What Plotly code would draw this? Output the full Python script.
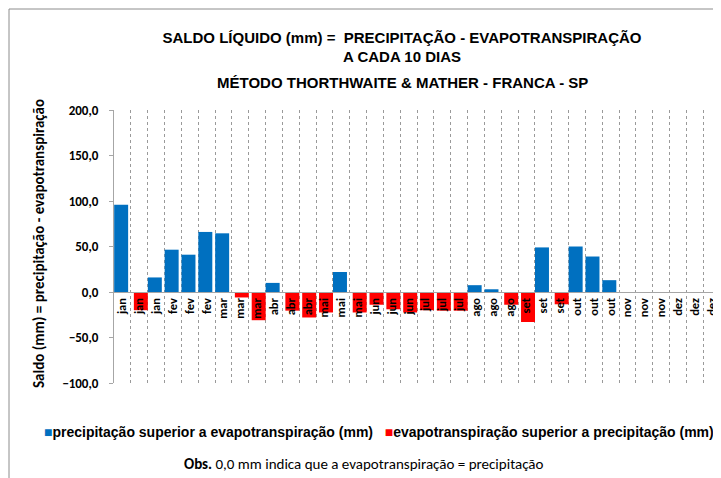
import plotly.graph_objects as go

# ---- data ----
decendio_labels = ["jan", "jan", "jan", "fev", "fev", "fev", "mar", "mar", "mar",
                   "abr", "abr", "abr", "mai", "mai", "mai", "jun", "jun", "jun",
                   "jul", "jul", "jul", "ago", "ago", "ago", "set", "set", "set",
                   "out", "out", "out", "nov", "nov", "nov", "dez", "dez", "dez"]

precip_superior = [96, None, 16, 46.5, 41, 66, 64.5, None, None,
                   10, None, None, None, 22, None, None, None, None,
                   None, None, None, 7.5, 3, None, None, 49, None,
                   50, 39, 13, 0, 0, 0, 0, 0, 0]

evap_superior = [None, -20, None, None, None, None, None, -6, -31,
                 None, -20.5, -28, -22.5, None, -22.5, -14, -19, -22.5,
                 -20, -20.5, -20.5, None, None, -14, -33, None, -13.5,
                 None, None, None, None, None, None, None, None, None]

y_ticks = [-100, -50, 0, 50, 100, 150, 200]

legend_names = ["precipitação superior a evapotranspiração (mm)",
                "evapotranspiração superior a precipitação (mm)"]

x_pos = list(range(len(decendio_labels)))

BLUE = "#0070C0"
RED = "#FF0000"
ARIAL = "Liberation Sans, Arial, sans-serif"
CALIBRI = "Carlito, Lato, sans-serif"

# page body has an 8px margin: the figure is drawn 8px in from the top-left
OFF = 8
W, H = 721 - OFF, 478 - OFF
L, R, T, B = 114 - OFF, 1, 110 - OFF, 478 - 383
pw, ph = W - L - R, H - T - B


def px_x(x):  # reference screen pixel -> paper
    return (x - OFF - L) / pw


def px_y(y):
    return (H - B - (y - OFF)) / ph


fig = go.Figure()
fig.add_trace(go.Bar(
    x=x_pos, y=precip_superior, name=legend_names[0],
    marker=dict(color=BLUE, line=dict(width=0)), width=0.83, offset=-0.49,
))
fig.add_trace(go.Bar(
    x=x_pos, y=evap_superior, name=legend_names[1],
    marker=dict(color=RED, line=dict(width=0)), width=0.83, offset=-0.32,
))

fig.update_layout(
    width=W, height=H,
    margin=dict(l=L, r=R, t=T, b=B, autoexpand=False),
    paper_bgcolor="white", plot_bgcolor="white",
    barmode="overlay",
    separators=",.",
    showlegend=False,
    title=dict(
        text="SALDO LÍQUIDO (mm) =  PRECIPITAÇÃO - EVAPOTRANSPIRAÇÃO<br>A CADA 10 DIAS",
        font=dict(family=ARIAL, size=15, color="black", weight="bold"),
        x=(402 - OFF) / W, xanchor="center", xref="container",
        y=1 - (42.5 - OFF) / H, yanchor="middle", yref="container",
    ),
    xaxis=dict(
        range=[-0.5, len(decendio_labels) - 0.5],
        tickvals=x_pos, ticktext=decendio_labels, tickangle=-90,
        tickfont=dict(family=CALIBRI, size=12.5, color="black", weight="bold"),
        ticks="", showgrid=False, zeroline=False,
        showline=True, linecolor="#a6a6a6", linewidth=1,
        anchor="free", position=1 / 3,
        minor=dict(tick0=0.5, dtick=1, showgrid=True, gridcolor="#9a9a9a",
                   griddash="dot", gridwidth=1, ticks=""),
    ),
    yaxis=dict(
        range=[-100, 200], tickvals=y_ticks, tickformat=".1f",
        tickfont=dict(family=CALIBRI, size=13, color="black", weight="bold"),
        ticks="outside", ticklen=4, tickcolor="#a6a6a6", ticklabelstandoff=8,
        showline=True, linecolor="#a6a6a6", linewidth=1,
        showgrid=False, zeroline=False,
    ),
)

fig.add_annotation(
    text="MÉTODO THORTHWAITE & MATHER - FRANCA - SP",
    xref="paper", yref="paper", x=px_x(402), y=px_y(83),
    xanchor="center", yanchor="middle", showarrow=False,
    font=dict(family=ARIAL, size=15, color="black", weight="bold"),
)
fig.add_annotation(
    text="Saldo (mm) = precipitação - evapotranspiração",
    xref="paper", yref="paper", x=px_x(39), y=px_y(244),
    xanchor="center", yanchor="middle", textangle=-90, showarrow=False,
    font=dict(family=CALIBRI, size=15, color="black", weight="bold"),
)
legend_text = (
    f'<span style="color:{BLUE}">■</span>{legend_names[0]}'
    "\u00a0\u00a0\u00a0"
    f'<span style="color:{RED}">■</span>{legend_names[1]}'
)
fig.add_annotation(
    text=legend_text,
    xref="paper", yref="paper", x=px_x(379), y=px_y(432),
    xanchor="center", yanchor="middle", showarrow=False,
    font=dict(family=ARIAL, size=14, color="black", weight="bold"),
)
fig.add_annotation(
    text="<b>Obs.</b> 0,0 mm indica que a evapotranspiração = precipitação",
    xref="paper", yref="paper", x=px_x(364), y=px_y(464),
    xanchor="center", yanchor="middle", showarrow=False,
    font=dict(family=CALIBRI, size=15, color="black"),
)

# chart border (outer frame)
fig.add_shape(
    type="rect", xref="paper", yref="paper",
    x0=px_x(9), x1=px_x(740), y0=px_y(500), y1=px_y(9),
    line=dict(color="#8c8c8c", width=1), fillcolor="rgba(0,0,0,0)", layer="below",
)

fig.write_html("out.html")
